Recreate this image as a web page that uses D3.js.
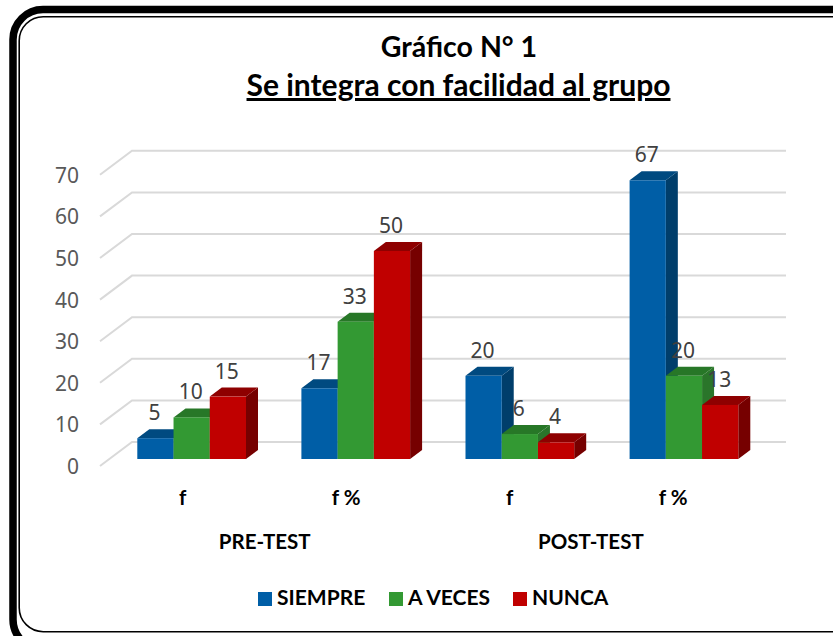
<!DOCTYPE html>
<html><head><meta charset="utf-8">
<script src="https://cdn.jsdelivr.net/npm/d3@7/dist/d3.min.js"></script>
<style>html,body{margin:0;padding:0;background:#fff}svg{display:block;font-family:Lato,sans-serif}</style>
</head><body><svg id="c" width="833" height="636"></svg>
<script>
const titleLines = ["Gráfico N° 1", "Se integra con facilidad al grupo"];
const categories = ["f", "f %", "f", "f %"];
const groupLabels = ["PRE-TEST", "POST-TEST"];
const seriesNames = ["SIEMPRE", "A VECES", "NUNCA"];
const siempre = [5, 17, 20, 67];
const aVeces = [10, 33, 6, 20];
const nunca = [15, 50, 4, 13];
const yTicks = [0, 10, 20, 30, 40, 50, 60, 70];
const fronts = ["#005EA6", "#339933", "#C00000"];
const tops = ["#004A80", "#277727", "#8E0000"];
const sides = ["#003E6B", "#2A752A", "#760000"];

const svg = d3.select("#c");
const series = [siempre, aVeces, nunca];

// frame
svg.append("rect").attr("x",13).attr("y",9.5).attr("width",860).attr("height",640).attr("rx",30)
   .attr("fill","none").attr("stroke","#000").attr("stroke-width",7.5);
svg.append("rect").attr("x",19.2).attr("y",16.7).attr("width",850).attr("height",615).attr("rx",24)
   .attr("fill","#fff").attr("stroke","#000").attr("stroke-width",1.6);

const y = d3.scaleLinear().domain([0,70]).range([459, 459-291.2]);
const x0 = d3.scaleBand().domain(d3.range(categories.length)).range([101,757.4]);
const x1 = d3.scaleBand().domain(d3.range(seriesNames.length)).range([36.3,145]);
const depthX = 12, depthY = 9;
const numberFont = "'Noto Sans',sans-serif";

// title
const title = svg.append("g").attr("text-anchor","middle").attr("font-weight",700).attr("fill","#000");
title.append("text").attr("x",459).attr("y",57).attr("font-size",28.5).text(titleLines[0]);
title.append("text").attr("x",458.5).attr("y",96).attr("font-size",30).attr("text-decoration","underline").text(titleLines[1]);

// gridlines
const grid = svg.append("g").attr("fill","none").attr("stroke","#D9D9D9").attr("stroke-width",2);
yTicks.forEach(t => {
  const f = y(t) + 7, b = y(t) - 17;
  grid.append("path").attr("d", d3.line()([[100,f],[132,b],[786,b]]));
});

// y labels
svg.append("g").attr("text-anchor","end").attr("font-size",21).attr("font-family",numberFont).attr("fill","#595959")
  .selectAll("text").data(yTicks).join("text")
  .attr("x",79).attr("y",d=>y(d)+15).text(d=>d);

// bars
const bars = svg.append("g");
categories.forEach((c,i) => {
  series.forEach((s,k) => {
    const v = s[i], l = x0(i)+x1(k), w = x1.bandwidth(), r = l+w, t = y(v), b = y(0);
    const g = bars.append("g");
    g.append("path").attr("fill",sides[k])
      .attr("d", d3.line()([[r,t],[r+depthX,t-depthY],[r+depthX,b-depthY],[r,b]])+"Z");
    g.append("path").attr("fill",tops[k])
      .attr("d", d3.line()([[l,t],[l+depthX,t-depthY],[r+depthX,t-depthY],[r,t]])+"Z");
    g.append("rect").attr("x",l).attr("y",t).attr("width",w).attr("height",b-t).attr("fill",fronts[k]);
  });
});

// value labels
const labels = svg.append("g").attr("text-anchor","middle").attr("font-size",21).attr("font-family",numberFont).attr("fill","#404040");
categories.forEach((c,i) => {
  series.forEach((s,k) => {
    labels.append("text").attr("x",x0(i)+x1(k)+x1.bandwidth()/2-1).attr("y",y(s[i])-18).text(s[i]);
  });
});

// category labels
const axisShift = -9;
const axis = svg.append("g").attr("text-anchor","middle").attr("font-weight",700).attr("fill","#000").attr("font-size",20.5);
categories.forEach((c,i) => {
  axis.append("text").attr("x",x0(i)+x1(1)+x1.bandwidth()/2+axisShift-i*0.6).attr("y",505).text(c);
});
groupLabels.forEach((g,i) => {
  const cx = (x0(i*2)+x0(i*2+1))/2+x1(1)+x1.bandwidth()/2+axisShift-i*2;
  axis.append("text").attr("x",cx).attr("y",549).text(g);
});

// legend
const legendX = [258,389,513];
const legend = svg.append("g").attr("font-weight",700).attr("font-size",21).attr("fill","#000");
seriesNames.forEach((n,k) => {
  legend.append("rect").attr("x",legendX[k]).attr("y",592).attr("width",14).attr("height",14).attr("fill",fronts[k]);
  legend.append("text").attr("x",legendX[k]+19).attr("y",605).text(n);
});
</script></body></html>
